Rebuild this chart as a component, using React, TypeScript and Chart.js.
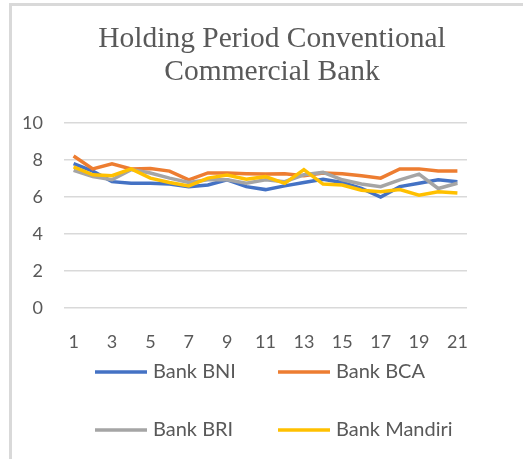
import React, { useEffect, useRef } from "react";
import { Chart, registerables } from "chart.js";

Chart.register(...registerables);

const categories = ["1","2","3","4","5","6","7","8","9","10","11","12","13","14","15","16","17","18","19","20","21"];
const titleLines = ["Holding Period Conventional", "Commercial Bank"];
const seriesNames = ["Bank BNI", "Bank BCA", "Bank BRI", "Bank Mandiri"];
const seriesColors = ["#4472C4", "#ED7D31", "#A5A5A5", "#FFC000"];

const bankBNI = [7.8, 7.4, 6.83, 6.74, 6.74, 6.7, 6.56, 6.65, 6.93, 6.56, 6.4, 6.6, 6.78, 6.96, 6.78, 6.46, 6.0, 6.56, 6.74, 6.93, 6.83];
const bankBCA = [8.22, 7.52, 7.8, 7.52, 7.54, 7.4, 6.93, 7.3, 7.3, 7.26, 7.24, 7.26, 7.15, 7.3, 7.26, 7.15, 7.02, 7.52, 7.52, 7.4, 7.4];
const bankBRI = [7.44, 7.1, 6.93, 7.48, 7.3, 7.02, 6.78, 6.93, 6.93, 6.74, 6.93, 6.83, 7.2, 7.33, 6.93, 6.7, 6.56, 6.93, 7.24, 6.46, 6.74];
const bankMandiri = [7.63, 7.2, 7.15, 7.52, 7.02, 6.78, 6.6, 7.02, 7.19, 6.96, 7.1, 6.74, 7.48, 6.7, 6.65, 6.37, 6.28, 6.4, 6.1, 6.28, 6.22];

const yMin = 0;
const yMax = 10;
const yStep = 2;

const seriesData = [bankBNI, bankBCA, bankBRI, bankMandiri];

const TEXT = "#595959";
const SANS = "Lato, 'Open Sans', sans-serif";

const overlayPlugin = {
  id: "overlay",
  afterDraw(chart: any) {
    const ctx = chart.ctx;
    ctx.save();
    // title
    ctx.fillStyle = TEXT;
    ctx.font = "29.5px 'Liberation Serif', serif";
    ctx.textAlign = "center";
    ctx.textBaseline = "alphabetic";
    ctx.fillText(titleLines[0], 272, 47);
    ctx.fillText(titleLines[1], 272, 80);
    // legend 2x2
    const cols = [95, 278];
    const rows = [372, 430];
    ctx.font = "20px " + SANS;
    ctx.textAlign = "left";
    ctx.textBaseline = "middle";
    seriesNames.forEach((name, i) => {
      const x = cols[i % 2];
      const y = rows[Math.floor(i / 2)];
      ctx.strokeStyle = seriesColors[i];
      ctx.lineWidth = 3.5;
      ctx.beginPath();
      ctx.moveTo(x, y);
      ctx.lineTo(x + 52, y);
      ctx.stroke();
      ctx.fillStyle = TEXT;
      ctx.fillText(name, x + 58, y);
    });
    ctx.restore();
  },
};

export default function App() {
  const ref = useRef<HTMLCanvasElement>(null);
  useEffect(() => {
    if (!ref.current) return;
    const chart = new Chart(ref.current, {
      type: "line",
      data: {
        labels: categories,
        datasets: seriesNames.map((name, i) => ({
          label: name,
          data: seriesData[i],
          borderColor: seriesColors[i],
          backgroundColor: seriesColors[i],
          borderWidth: 3.5,
          pointRadius: 0,
          tension: 0,
          fill: false,
          order: 4 - i,
        })),
      },
      options: {
        animation: false,
        responsive: false,
        devicePixelRatio: 1,
        layout: { padding: { left: 0, right: 56, top: 123, bottom: 0 } },
        plugins: {
          legend: { display: false },
          title: { display: false },
          tooltip: { enabled: false },
        },
        scales: {
          x: {
            offset: true,
            grid: { display: false, drawTicks: false },
            border: { display: false },
            ticks: {
              autoSkip: false,
              maxRotation: 0,
              padding: 23,
              color: TEXT,
              font: { family: SANS, size: 18 },
              callback: (_v: any, index: number) => (index % 2 === 0 ? categories[index] : ""),
            },
            afterFit: (scale: any) => {
              scale.height = 151;
            },
          },
          y: {
            min: yMin,
            max: yMax,
            ticks: {
              stepSize: yStep,
              padding: 21,
              color: TEXT,
              font: { family: SANS, size: 18 },
            },
            grid: { color: "#d9d9d9", lineWidth: 1.5, drawTicks: false },
            border: { display: false },
            afterFit: (scale: any) => {
              scale.width = 64;
            },
          },
        },
      },
      plugins: [overlayPlugin],
    });
    return () => chart.destroy();
  }, []);

  return (
    <div style={{ position: "absolute", left: 0, top: 0, width: 523, height: 459, background: "#fff" }}>
      <canvas ref={ref} width={523} height={459} style={{ position: "absolute", left: 0, top: 0, width: 523, height: 459 }} />
      <div
        style={{
          position: "absolute",
          left: 9,
          top: 3,
          width: 514,
          height: 456,
          borderTop: "3px solid #d9d9d9",
          borderLeft: "3px solid #d9d9d9",
          boxSizing: "border-box",
          pointerEvents: "none",
        }}
      />
    </div>
  );
}
